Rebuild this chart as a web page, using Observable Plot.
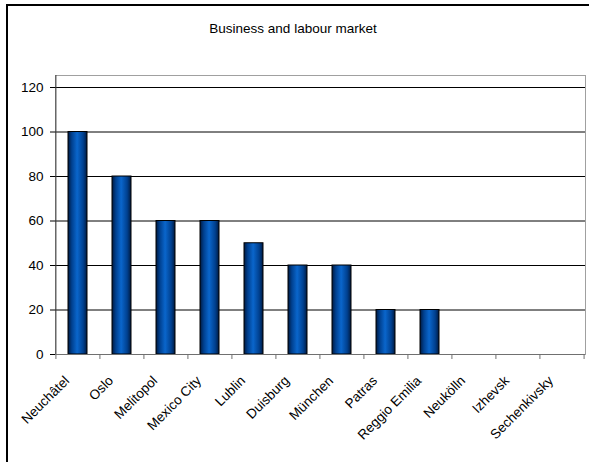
<!DOCTYPE html>
<html>
<head>
<meta charset="utf-8">
<script src="https://cdn.jsdelivr.net/npm/d3@7"></script>
<script src="https://cdn.jsdelivr.net/npm/@observablehq/plot@0.6"></script>
<style>
  html, body { margin: 0; padding: 0; background: #fff; }
  #wrap { position: relative; width: 589px; height: 462px; overflow: hidden; font-family: "Liberation Sans", Arial, sans-serif; }
  #border { position: absolute; left: 6px; top: 4px; width: 700px; height: 700px; border-left: 2px solid #000; border-top: 2px solid #000; box-sizing: border-box; }
  #title { position: absolute; left: 0; top: 21px; width: 586px; text-align: center; font-size: 13.5px; line-height: 15px; color: #000; }
  #chart { position: absolute; left: 0; top: 0; }
</style>
</head>
<body>
<div id="wrap">
  <div id="border"></div>
  <div id="title">Business and labour market</div>
  <div id="chart"></div>
</div>
<script>
const categories = ["Neuchâtel","Oslo","Melitopol","Mexico City","Lublin","Duisburg","München","Patras","Reggio Emilia","Neukölln","Izhevsk","Sechenkivsky"];
const values = [100, 80, 60, 60, 50, 40, 40, 20, 20, 0, 0, 0];
const yTicks = [0, 20, 40, 60, 80, 100, 120];

const data = categories.map((c, i) => ({city: c, value: values[i]}));

const W = 589, H = 462, ML = 55, MR = 4, MT = 75, MB = 108;
const step = (W - ML - MR) / categories.length;
const FS = 13.5;

const svg = Plot.plot({
  width: W, height: H,
  marginLeft: ML, marginRight: MR, marginTop: MT, marginBottom: MB,
  style: {background: "transparent", fontFamily: "'Liberation Sans', Arial, sans-serif", fontSize: FS + "px", color: "#000", overflow: "visible"},
  x: {domain: categories, paddingInner: 0.56, paddingOuter: 0.28, align: 0.5, axis: null},
  y: {domain: [0, 125.4], axis: null},
  marks: [
    Plot.frame({stroke: "#a0a0a0"}),
    Plot.gridY(yTicks.filter(d => d > 0), {stroke: "#000", strokeOpacity: 1}),
    Plot.barY(data, {x: "city", y: "value", fill: "url(#barGrad)", stroke: "#000", strokeWidth: 1, filter: d => d.value > 0}),
    Plot.ruleY([0], {stroke: "#707070"}),
    Plot.ruleX([categories[0]], {dx: -step / 2, stroke: "#404040"}),
    Plot.axisY({ticks: yTicks, tickSize: 5, tickPadding: 7, label: null, stroke: "#000", fill: "#000", fontSize: FS}),
    Plot.axisX({tickSize: 5, dx: -step / 2, text: null, label: null, stroke: "#707070"}),
    Plot.axisX({ticks: [categories[categories.length - 1]], tickSize: 5, dx: step / 2, text: null, label: null, stroke: "#707070"}),
    Plot.text(data, {x: "city", frameAnchor: "bottom", text: "city", rotate: -45, textAnchor: "end", lineAnchor: "middle", dx: -11, dy: 24, fill: "#000", fontSize: FS})
  ]
});

const defs = d3.select(svg).insert("defs", ":first-child");
const g = defs.append("linearGradient").attr("id", "barGrad").attr("x1", "0").attr("x2", "1").attr("y1", "0").attr("y2", "0");
[[0, "#001a40"], [0.2, "#00408f"], [0.48, "#0a66cc"], [0.8, "#00408f"], [1, "#001a40"]].forEach(([o, c]) => g.append("stop").attr("offset", o).attr("stop-color", c));

document.getElementById("chart").appendChild(svg);
</script>
</body>
</html>
